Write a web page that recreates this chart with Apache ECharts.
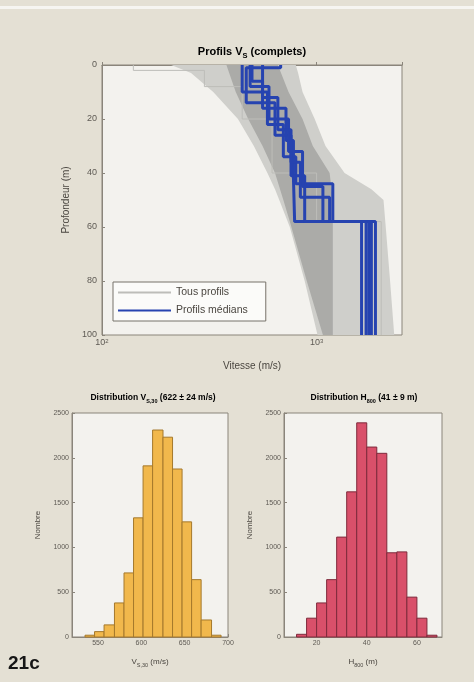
<!DOCTYPE html>
<html><head><meta charset="utf-8">
<script src="https://cdn.jsdelivr.net/npm/echarts@6/dist/echarts.min.js"></script>
<style>html,body{margin:0;padding:0;background:#e4e0d4;}#c{width:474px;height:682px;}</style>
</head><body><div id="c"></div>
<script>
// ---------- DATA ----------
// Main panel: depth (m) vs shear-wave velocity (m/s)
const depthTicks = [0, 20, 40, 60, 80, 100];
// Envelope of all profiles (light gray)
const envOuterDepth = [0, 3, 10, 20, 30, 40, 46, 50, 60, 80, 100];
const envOuterLeft  = [210, 260, 330, 430, 510, 590, 640, 670, 750, 880, 1010];
const envOuterRight = [800, 820, 860, 980, 1100, 1350, 1800, 2050, 2100, 2200, 2300];
// Core of all profiles (darker gray)
const envInnerDepth = [0, 10, 20, 30, 40, 50, 58, 80, 100];
const envInnerLeft  = [380, 420, 480, 560, 640, 700, 750, 900, 1070];
const envInnerRight = [660, 740, 860, 960, 1150, 1190, 1190, 1190, 1190];
// One individual thin gray profile (Tous profils)
const grayDepth = [0, 2, 8, 20, 40, 58, 100];
const grayVs    = [140, 300, 450, 620, 1000, 2000];
// Median profiles (layer boundaries and velocities)
const med1Depth = [0, 10, 22, 34, 44, 58, 100];
const med1Vs    = [450, 590, 700, 800, 1190, 1620];
const med2Depth = [0, 6, 16, 28, 42, 58, 100];
const med2Vs    = [500, 560, 720, 780, 790, 1750];
const med3Depth = [0, 1, 14, 26, 41, 58, 100];
const med3Vs    = [680, 470, 640, 760, 880, 1880];
const med4Depth = [0, 8, 20, 32, 45, 58, 100];
const med4Vs    = [490, 600, 740, 860, 1070, 1700];
const med5Depth = [0, 12, 24, 36, 49, 58, 100];
const med5Vs    = [560, 660, 760, 840, 1150, 1800];
// Histogram Vs30
const vs30Edges  = [535, 546, 557, 569, 580, 591, 602, 613, 625, 636, 647, 658, 669, 681, 692];
const vs30Counts = [20, 60, 135, 380, 715, 1330, 1910, 2310, 2230, 1875, 1285, 640, 190, 20];
const vs30Ticks  = [550, 600, 650, 700];
// Histogram H800
const h800Edges  = [12, 16, 20, 24, 28, 32, 36, 40, 44, 48, 52, 56, 60, 64, 68];
const h800Counts = [30, 210, 380, 640, 1115, 1620, 2390, 2120, 2050, 940, 950, 445, 210, 20];
const h800Ticks  = [20, 40, 60];
const countTicks = [0, 500, 1000, 1500, 2000, 2500];

// ---------- HELPERS ----------
function stepLine(depths, vs) {
  const pts = [];
  for (let i = 0; i < vs.length; i++) {
    pts.push([vs[i], depths[i]]);
    pts.push([vs[i], depths[i + 1]]);
  }
  return pts;
}
function envelopeSeries(depths, left, right, color) {
  return {
    type: 'custom', xAxisIndex: 0, yAxisIndex: 0, silent: true, clip: true, z: 1,
    data: depths.map((d, i) => [left[i], right[i], d]),
    encode: { x: [0, 1], y: 2 },
    renderItem: function (params, api) {
      if (params.dataIndex !== 0) return null;
      const pts = [];
      for (let i = 0; i < depths.length; i++) pts.push(api.coord([left[i], depths[i]]));
      for (let i = depths.length - 1; i >= 0; i--) pts.push(api.coord([right[i], depths[i]]));
      return { type: 'polygon', shape: { points: pts }, style: { fill: color } };
    }
  };
}
function histSeries(idx, edges, counts, fill, stroke) {
  return {
    type: 'custom', xAxisIndex: idx, yAxisIndex: idx, silent: true,
    data: counts.map((c, i) => [edges[i], edges[i + 1], c]),
    encode: { x: [0, 1], y: 2 },
    renderItem: function (params, api) {
      const a = api.coord([api.value(0), api.value(2)]);
      const b = api.coord([api.value(1), 0]);
      return { type: 'rect', shape: { x: a[0], y: a[1], width: b[0] - a[0], height: b[1] - a[1] },
        style: { fill: fill, stroke: stroke, lineWidth: 1 } };
    }
  };
}
const FONT = '"Liberation Sans", Arial, sans-serif';
const AX = '#8a857b';
const LBL = '#5e5a54';
const BLUE = '#2643b0';

const medians = [[med1Depth, med1Vs], [med2Depth, med2Vs], [med3Depth, med3Vs], [med4Depth, med4Vs], [med5Depth, med5Vs]];

const subRich = (base, sub, bold) => ({
  b: { fontSize: base, lineHeight: base + 5, fontWeight: bold ? 'bold' : 'normal', fontFamily: FONT, color: bold ? '#1a1a1a' : '#4a4640', verticalAlign: 'middle' },
  s: { fontSize: sub, lineHeight: sub + 1, fontWeight: bold ? 'bold' : 'normal', fontFamily: FONT, color: bold ? '#1a1a1a' : '#4a4640', verticalAlign: 'bottom' }
});

function valueAxisBase(idx) {
  return {
    gridIndex: idx,
    axisLine: { show: true, lineStyle: { color: AX, width: 1 } },
    axisTick: { show: true, inside: true, length: 3, lineStyle: { color: AX } },
    splitLine: { show: false },
  };
}
const plain = v => String(v);

const option = {
  animation: false,
  backgroundColor: '#e4e0d4',
  textStyle: { fontFamily: FONT },
  grid: [
    { left: 102, top: 65, width: 300, height: 270, show: true, backgroundColor: '#f3f2ee', borderColor: AX, borderWidth: 1 },
    { left: 72, top: 413, width: 156, height: 224, show: true, backgroundColor: '#f3f2ee', borderColor: AX, borderWidth: 1 },
    { left: 284, top: 413, width: 158, height: 224, show: true, backgroundColor: '#f3f2ee', borderColor: AX, borderWidth: 1 }
  ],
  xAxis: [
    Object.assign(valueAxisBase(0), {
      type: 'log', logBase: 10, min: 100, max: 2500,
      name: 'Vitesse (m/s)', nameLocation: 'middle', nameGap: 26,
      nameTextStyle: { fontSize: 10, color: '#4a4640', fontFamily: FONT },
      axisLabel: {
        margin: 3, color: LBL, fontSize: 9, fontFamily: FONT,
        formatter: v => (Math.abs(v - 100) < 1 ? '10{p|2}' : (Math.abs(v - 1000) < 1 ? '10{p|3}' : '')),
        rich: { p: { fontSize: 6, lineHeight: 6, verticalAlign: 'top', color: LBL } }
      }
    }),
    Object.assign(valueAxisBase(1), {
      type: 'value', min: 520, max: 700,
      name: '{b|V}{s|S,30}{b| (m/s)}', nameLocation: 'middle', nameGap: 18,
      nameTextStyle: { rich: subRich(8, 5.5, false) },
      axisLabel: { margin: 3, color: LBL, fontSize: 7, fontFamily: FONT, customValues: vs30Ticks, formatter: plain },
      axisTick: { show: true, inside: true, length: 3, lineStyle: { color: AX }, customValues: vs30Ticks }
    }),
    Object.assign(valueAxisBase(2), {
      type: 'value', min: 7, max: 70,
      name: '{b|H}{s|800}{b| (m)}', nameLocation: 'middle', nameGap: 18,
      nameTextStyle: { rich: subRich(8, 5.5, false) },
      axisLabel: { margin: 3, color: LBL, fontSize: 7, fontFamily: FONT, customValues: h800Ticks, formatter: plain },
      axisTick: { show: true, inside: true, length: 3, lineStyle: { color: AX }, customValues: h800Ticks }
    })
  ],
  yAxis: [
    Object.assign(valueAxisBase(0), {
      type: 'value', inverse: true, min: depthTicks[0], max: depthTicks[depthTicks.length - 1], interval: 20,
      name: 'Profondeur (m)', nameLocation: 'middle', nameGap: 30, nameRotate: 90,
      nameTextStyle: { fontSize: 10, color: '#4a4640', fontFamily: FONT },
      axisLabel: { margin: 5, color: LBL, fontSize: 9, fontFamily: FONT, formatter: plain }
    }),
    Object.assign(valueAxisBase(1), {
      type: 'value', min: countTicks[0], max: countTicks[countTicks.length - 1], interval: 500,
      name: 'Nombre', nameLocation: 'middle', nameGap: 30, nameRotate: 90,
      nameTextStyle: { fontSize: 8, color: '#4a4640', fontFamily: FONT },
      axisLabel: { margin: 3, color: LBL, fontSize: 7, fontFamily: FONT, formatter: plain }
    }),
    Object.assign(valueAxisBase(2), {
      type: 'value', min: countTicks[0], max: countTicks[countTicks.length - 1], interval: 500,
      name: 'Nombre', nameLocation: 'middle', nameGap: 30, nameRotate: 90,
      nameTextStyle: { fontSize: 8, color: '#4a4640', fontFamily: FONT },
      axisLabel: { margin: 3, color: LBL, fontSize: 7, fontFamily: FONT, formatter: plain }
    })
  ],
  legend: {
    data: ['Tous profils', 'Profils médians'],
    left: 113, top: 282, orient: 'vertical',
    itemWidth: 53, itemHeight: 8, itemGap: 7,
    padding: [5, 18, 5, 4],
    itemStyle: { opacity: 0 },
    backgroundColor: '#fbfbf9', borderColor: '#77726a', borderWidth: 1, borderRadius: 0,
    textStyle: { fontSize: 10.5, color: '#4a4640', fontFamily: FONT },
    selectedMode: false
  },
  series: [
    envelopeSeries(envOuterDepth, envOuterLeft, envOuterRight, '#cfcfcb'),
    envelopeSeries(envInnerDepth, envInnerLeft, envInnerRight, '#ababa8'),
    {
      name: 'Tous profils', type: 'line', xAxisIndex: 0, yAxisIndex: 0, z: 2,
      symbol: 'none', silent: true,
      lineStyle: { color: '#bdbdb9', width: 1 }, itemStyle: { color: '#bdbdb9' },
      data: stepLine(grayDepth, grayVs)
    }
  ].concat(medians.map(m => ({
    name: 'Profils médians', type: 'line', xAxisIndex: 0, yAxisIndex: 0, z: 3,
    symbol: 'none', silent: true,
    lineStyle: { color: BLUE, width: 3 }, itemStyle: { color: BLUE },
    data: stepLine(m[0], m[1])
  }))).concat([
    histSeries(1, vs30Edges, vs30Counts, '#f1b84c', '#a5792c'),
    histSeries(2, h800Edges, h800Counts, '#d9506a', '#7e2a3b')
  ]),
  graphic: [
    { type: 'rect', shape: { x: 0, y: 6, width: 474, height: 3 }, style: { fill: '#f6f5f1' }, silent: true },
    { type: 'text', x: 252, y: 52, silent: true,
      style: { text: '{b|Profils V}{s|S}{b| (complets)}', align: 'center', verticalAlign: 'middle', rich: subRich(11, 7.5, true) } },
    { type: 'text', x: 153, y: 398, silent: true,
      style: { text: '{b|Distribution V}{s|S,30}{b| (622 ± 24 m/s)}', align: 'center', verticalAlign: 'middle', rich: subRich(8.5, 5.5, true) } },
    { type: 'text', x: 364, y: 398, silent: true,
      style: { text: '{b|Distribution H}{s|800}{b| (41 ± 9 m)}', align: 'center', verticalAlign: 'middle', rich: subRich(8.5, 5.5, true) } },
    { type: 'text', x: 8, y: 664, silent: true,
      style: { text: '21c', fill: '#161616', font: 'bold 19px "Liberation Sans", Arial, sans-serif', verticalAlign: 'middle' } }
  ]
};
const chart = echarts.init(document.getElementById('c'), null, { renderer: 'canvas' });
chart.setOption(option);
</script></body></html>
